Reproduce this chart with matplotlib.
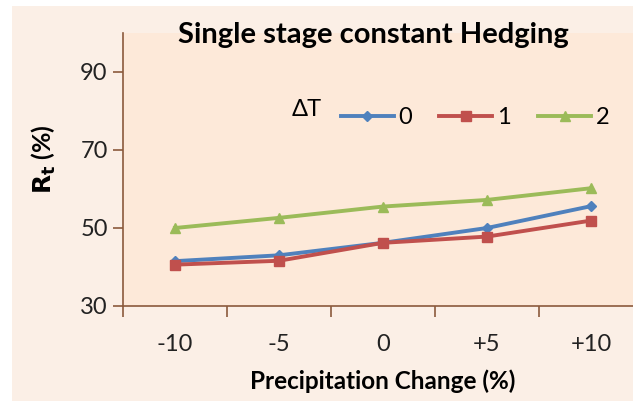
import numpy as np
import matplotlib.pyplot as plt
from matplotlib.patches import Rectangle

# data
categories = ['-10', '-5', '0', '+5', '+10']
dt_labels = ['0', '1', '2']
rt_dt0 = [41.5, 43.0, 46.2, 50.0, 55.6]
rt_dt1 = [40.6, 41.6, 46.2, 47.8, 51.9]
rt_dt2 = [50.0, 52.6, 55.5, 57.2, 60.2]

colors = ['#4F81BD', '#C0504D', '#9BBB59']
markers = ['D', 's', '^']
msizes = [5, 7.5, 7.5]

plt.rcParams['font.family'] = ['Lato', 'DejaVu Sans']

fig = plt.figure(figsize=(6.33, 4.01), dpi=100, facecolor='white')
# chart area background (image is cropped with a white strip left/top)
fig.patches.append(Rectangle((12 / 633, 0), 1, 1 - 6 / 401, transform=fig.transFigure,
                             facecolor='#FBEFE6', edgecolor='none', zorder=-10))

# plot area: x 123..643 px, y 33..306 px
ax = fig.add_axes([123 / 633, 95 / 401, 520 / 633, 273 / 401])
ax.set_facecolor('#FDE9D9')

x = np.arange(len(categories))
series = [rt_dt0, rt_dt1, rt_dt2]
for vals, lab, c, m, ms in zip(series, dt_labels, colors, markers, msizes):
    ax.plot(x, vals, color=c, lw=2.8, marker=m, ms=ms, label=lab, zorder=3)

ax.set_xlim(-0.5, len(categories) - 0.5)
ax.set_ylim(30, 100)
ax.set_yticks([30, 50, 70, 90])
ax.set_xticks(x)
ax.set_xticklabels(categories)
ax.set_xticks(np.arange(-0.5, len(categories), 1), minor=True)

brown = '#8B5A3C'
for s in ['top', 'right']:
    ax.spines[s].set_visible(False)
for s in ['left', 'bottom']:
    ax.spines[s].set_color(brown)
    ax.spines[s].set_linewidth(1.2)

ax.tick_params(axis='y', colors=brown, length=7, width=1.2, labelsize=17,
               labelcolor='#222222', pad=4)
ax.tick_params(axis='x', which='major', length=0, labelsize=17,
               labelcolor='#222222', pad=20)
ax.tick_params(axis='x', which='minor', colors=brown, length=8, width=1.2)

ax.set_xlabel('Precipitation Change (%)', fontsize=17.5, fontweight='bold', va='center')
ax.xaxis.set_label_coords((383 - 123) / 520, (306 - 381) / 273)
ax.set_ylabel(r'$\mathbf{R_t}$ (%)', fontsize=18, fontweight='bold', va='center')
ax.yaxis.set_label_coords((44 - 123) / 520, (306 - 159) / 273)

fig.text(373 / 633, 1 - 35 / 401, 'Single stage constant Hedging', fontsize=21,
         fontweight='bold', ha='center', va='center')

ax.legend(ncol=3, loc='center', frameon=False, fontsize=17, handlelength=2.25,
          columnspacing=1.15, handletextpad=0.2,
          bbox_to_anchor=((475 - 123) / 520, (306 - 118) / 273))
fig.text(307 / 633, 1 - 110 / 401, 'ΔT', fontsize=17, ha='center', va='center')

fig.savefig('out.png', dpi=100, facecolor=fig.get_facecolor())
